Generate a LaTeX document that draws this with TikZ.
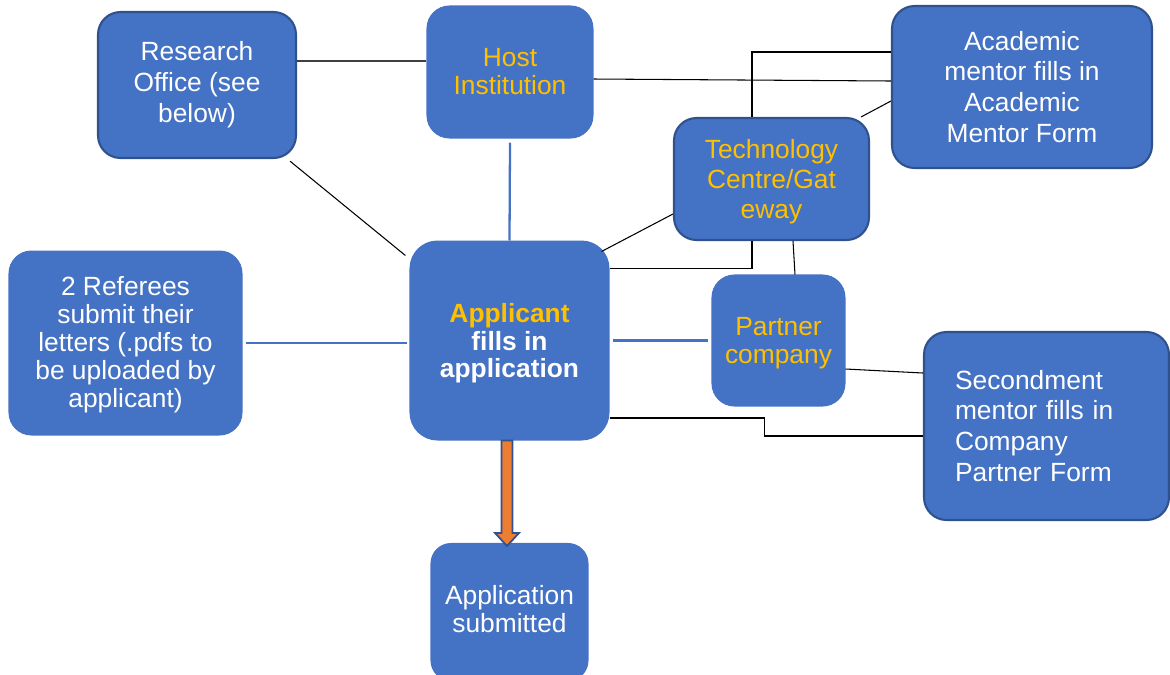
\documentclass[tikz,border=0pt]{standalone}
\usepackage{fontspec}
\setmainfont{Liberation Sans}
\usetikzlibrary{arrows.meta, positioning, calc}
\usepackage{xcolor}
\definecolor{boxblue}{HTML}{4472C4}
\definecolor{edgeblue}{HTML}{2F528F}
\definecolor{hostyellow}{HTML}{FFC000}
\definecolor{arroworange}{HTML}{ED7D31}

\begin{document}
\begin{tikzpicture}[x=0.02cm, y=-0.02cm, line width=0.6pt]
    \tikzstyle{box}=[rectangle, rounded corners=0.45cm, fill=boxblue, draw=boxblue, text=white, align=center, font=\fontsize{15}{15.9}\selectfont, inner sep=2pt]
    \tikzstyle{edged box}=[box, draw=edgeblue, line width=1.2pt]
    \tikzstyle{loose}=[font=\fontsize{15}{17.6}\selectfont]
    \tikzstyle{link}=[draw=black, line width=0.6pt]
    \tikzstyle{gray link}=[draw=black!75, line width=0.9pt]
    \tikzstyle{blue link}=[draw=boxblue, line width=1.3pt]
    \tikzstyle{arrowbody}=[fill=arroworange, draw=edgeblue, line width=1pt, line join=miter]

    \useasboundingbox (0,0) rectangle (1170,674);

    \node[edged box, loose, minimum width=3.96cm, minimum height=2.92cm] (RO) at (197,85) {Research\\Office (see\\below)};
    \node[box, text=hostyellow, minimum width=3.32cm, minimum height=2.64cm] (HI) at (510,72) {Host\\Institution};
    \node[edged box, loose, minimum width=5.2cm, minimum height=3.24cm] (AM) at (1022,87) {Academic\\mentor fills in\\Academic\\Mentor Form};
    \node[edged box, text=hostyellow, font=\fontsize{15}{17}\selectfont, text depth=-0.22cm, minimum width=3.9cm, minimum height=2.44cm] (TC) at (771.5,179) {Technology\\Centre/Gat\\eway};
    \node[box, font=\bfseries\fontsize{15}{15.9}\selectfont, text depth=0pt, rounded corners=0.55cm, minimum width=3.98cm, minimum height=3.98cm] (AP) at (509.5,340.5) {\textcolor{hostyellow}{Applicant}\\fills in\\application};
    \node[box, text depth=0.05cm, minimum width=4.66cm, minimum height=3.68cm] (RF) at (125.5,343) {2 Referees\\submit their\\letters (.pdfs to\\be uploaded by\\applicant)};
    \node[box, text=hostyellow, text depth=-0.05cm, minimum width=2.66cm, minimum height=2.62cm] (PC) at (778.5,340.5) {Partner\\company};
    \node[edged box, loose, minimum width=4.9cm, minimum height=3.76cm, text width=3.66cm, align=left] (SM) at (1046.5,426) {Secondment\\mentor fills in\\Company\\Partner Form};
    \node[box, text depth=0.12cm, rounded corners=0.4cm, minimum width=3.14cm, minimum height=2.74cm] (AS) at (509.5,612) {Application\\submitted};

    % connectors
    \draw[gray link] ([yshift=0.48cm]RO.east) -- ([yshift=0.48cm]RO.east -| HI.west);
    \draw[link, shorten <=2pt, shorten >=3pt] (RO) -- (AP);
    \draw[blue link] ([yshift=-0.08cm]HI.south) -- (AP.north);
    \draw[link] ([yshift=-0.14cm]HI.east) -- ([yshift=0.12cm]AM.west);
    \draw[link] ([yshift=0.7cm]AM.west) -| ([xshift=-0.39cm]TC.north);
    \draw[link] ([yshift=-0.28cm]AM.west) -- ([xshift=-0.18cm]TC.north east);
    \draw[link] ([xshift=-0.16cm,yshift=-0.22cm]AP.north east) -- ([yshift=-0.7cm]TC.west);
    \draw[link] ([yshift=-0.56cm]AP.north east) -| ([xshift=-0.39cm]TC.south);
    \draw[link] ([xshift=0.43cm]TC.south) -- ([xshift=0.33cm]PC.north);
    \draw[blue link] ([xshift=0.06cm]RF.east) -- ([xshift=-0.04cm]RF.east -| AP.west);
    \draw[blue link] ([xshift=0.06cm]AP.east) -- ([xshift=-0.06cm]AP.east -| PC.west);
    \draw[link] ([yshift=-0.57cm]PC.east) -- ([yshift=1.06cm]SM.west);
    \draw[link] ([yshift=-1.55cm]AP.east) -- ++(155,0) |- ([yshift=-0.2cm]SM.west);

    % arrow to submission
    \coordinate (A0) at ([xshift=-0.05cm]AP.south);
    \coordinate (A1) at ([xshift=-0.05cm,yshift=-0.06cm]AS.north);
    \filldraw[arrowbody] ($(A0)+(-5.5,0)$) -- ($(A1)+(-5.5,-13)$) -- ($(A1)+(-12,-13)$) -- (A1)
        -- ($(A1)+(12,-13)$) -- ($(A1)+(5.5,-13)$) -- ($(A0)+(5.5,0)$) -- cycle;
\end{tikzpicture}
\end{document}
